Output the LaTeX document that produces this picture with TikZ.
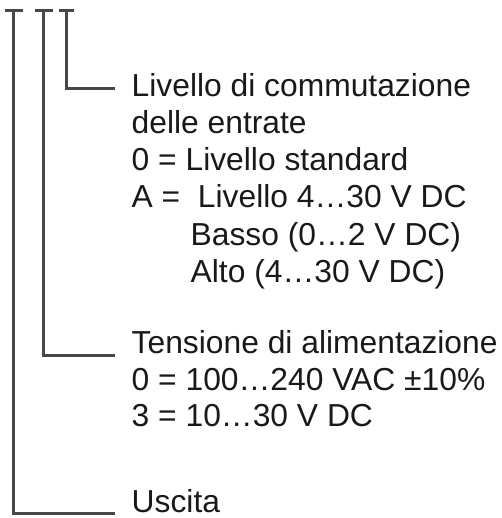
\documentclass[tikz,border=0pt]{standalone}
\usepackage{fontspec}
\setmainfont{Liberation Sans}
\begin{document}
\begin{tikzpicture}[x=1pt,y=-1pt,
  txt/.style={anchor=base west, inner sep=0pt, font=\fontsize{31.8}{36}\selectfont, text=black!90},
  lead/.style={draw=black!72, line width=3pt}]
\useasboundingbox (0,0) rectangle (501,518);
% text lines
\node[txt] (l1) at (131.5,97) {Livello di commutazione};
\node[txt] (l2) at (131.5,133.5) {delle entrate};
\node[txt] (l3) at (131.5,171) {0 = Livello standard};
\node[txt] (l4) at (131.5,208) {A = \ Livello 4…30 V DC};
\node[txt] (l5) at (190.5,245) {Basso (0…2 V DC)};
\node[txt] (l6) at (190.5,282) {Alto (4…30 V DC)};
\node[txt] (t1) at (131.5,353) {Tensione di alimentazione};
\node[txt] (t2) at (131.5,390) {0 = 100…240 VAC ±10\%};
\node[txt] (t3) at (131.5,426.5) {3 = 10…30 V DC};
\node[txt] (u1) at (131.5,512) {Uscita};
% leader coordinates
\coordinate (aTop) at (13.5,11);
\coordinate (aL) at (5,11);
\coordinate (aR) at (22.5,11);
\coordinate (aEnd) at (115,513);
\coordinate (bTop) at (43.5,11);
\coordinate (bL) at (34.5,11);
\coordinate (bR) at (52.5,11);
\coordinate (bEnd) at (115,355);
\coordinate (cTop) at (66,11);
\coordinate (cL) at (58.5,11);
\coordinate (cR) at (73.5,11);
\coordinate (cEnd) at (115,89);
% leaders
\draw[lead] (aL) -- (aR);
\draw[lead] (aTop) |- (aEnd);
\draw[lead] (bL) -- (bR);
\draw[lead] (bTop) |- (bEnd);
\draw[lead] (cL) -- (cR);
\draw[lead] (cTop) |- (cEnd);
\end{tikzpicture}
\end{document}
